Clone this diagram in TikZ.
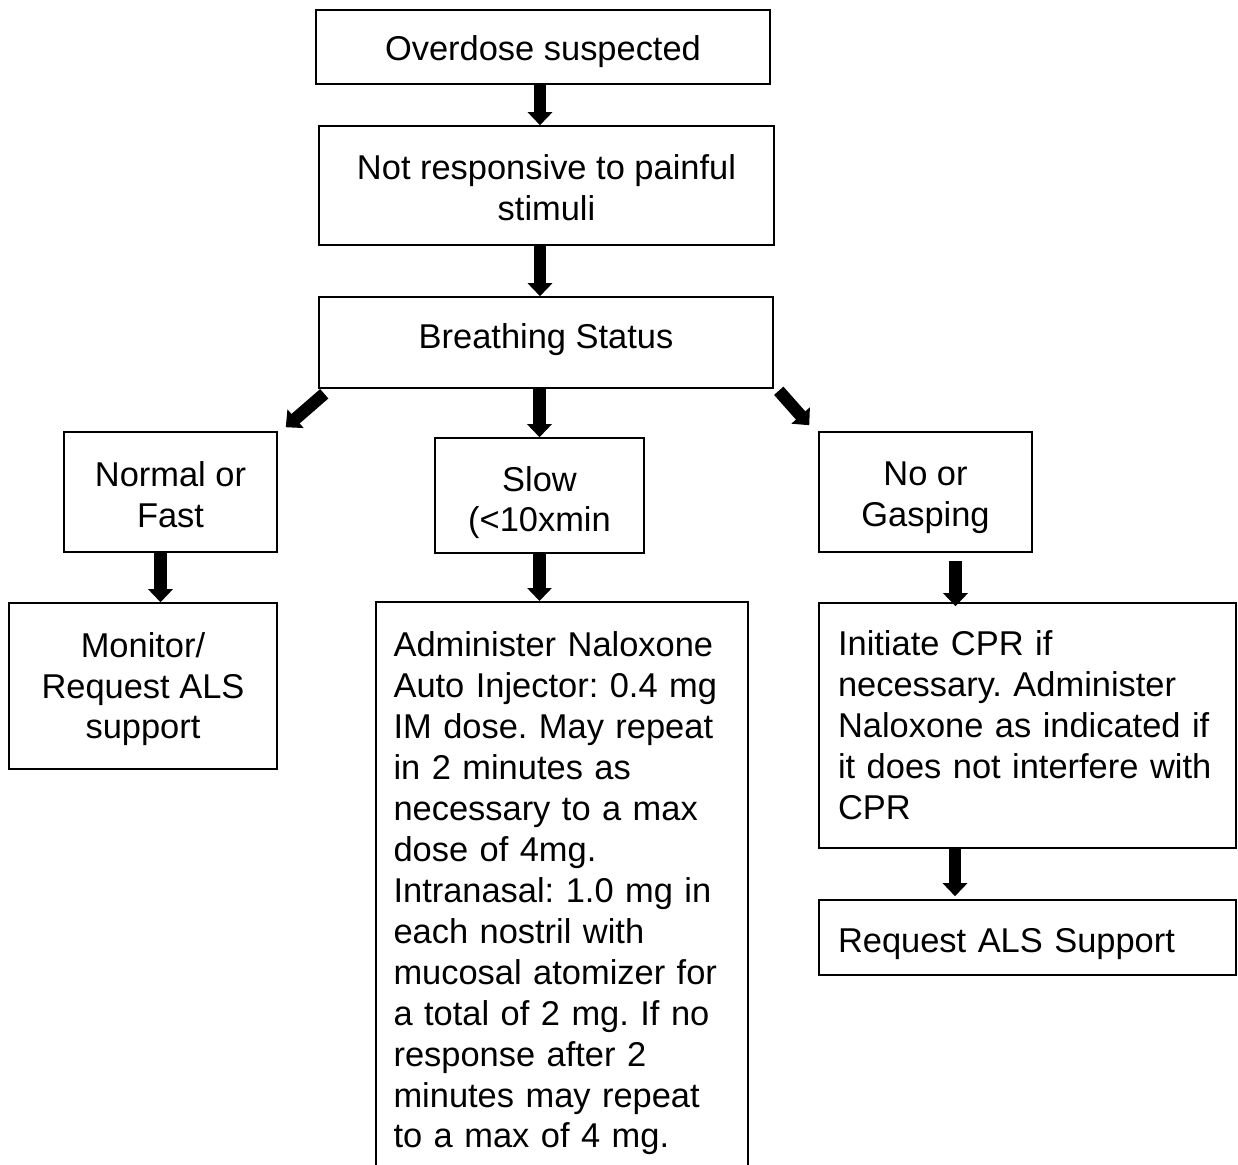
\documentclass[tikz,border=0pt]{standalone}
\usepackage{fontspec}
\setmainfont{Liberation Sans}
\frenchspacing
\usetikzlibrary{arrows.meta}

\tikzset{
  frame/.style={draw, line width=0.9pt, inner sep=0pt, font=\fontsize{19.6}{23.3}\selectfont},
  box/.style={frame, align=center, text depth=0pt},
  lbox/.style={frame, align=left, inner xsep=0.38cm, text width=7.58cm},
  blk/.style={line width=0.25cm, -{Triangle[width=0.48cm,length=0.26cm]}},
}

\begin{document}
\begin{tikzpicture}[x=0.02cm,y=-0.02cm]
    % page frame
    \useasboundingbox (0,0) rectangle (1238,1165);
    \clip (0,0) rectangle (1238,1165);

    % top chain
    \node[box, minimum width=9.08cm, minimum height=1.48cm, text height=0.56cm] (over) at (543,47) {Overdose suspected};
    \node[box, minimum width=9.1cm, minimum height=2.38cm, text height=1.41cm] (resp) at (546.5,185.5) {Not responsive to painful\\stimuli};
    \node[box, minimum width=9.08cm, minimum height=1.82cm, text height=0.23cm] (breath) at (546,342.5) {Breathing Status};

    % breathing branches
    \node[box, minimum width=4.26cm, minimum height=2.4cm, text height=1.41cm] (fast) at (170.5,492) {Normal or\\Fast};
    \node[box, minimum width=4.18cm, minimum height=2.3cm, text height=1.46cm] (slow) at (539.5,495.5) {Slow\\(<10xmin};
    \node[box, minimum width=4.26cm, minimum height=2.4cm, text height=1.39cm] (gasp) at (925.5,492) {No or\\Gasping};

    % actions
    \node[box, minimum width=5.36cm, minimum height=3.32cm, text height=2.12cm] (monitor) at (143,686) {Monitor/\\Request ALS\\support};
    \node[lbox, text width=6.74cm, inner xsep=0.35cm, inner ysep=0.6cm, anchor=north] (nalox) at (562,601)
      {Administer Naloxone\\Auto Injector: 0.4 mg\\IM dose. May repeat\\in 2 minutes as\\necessary to a max\\dose of 4mg.\\Intranasal: 1.0 mg in\\each nostril with\\mucosal atomizer for\\a total of 2 mg. If no\\response after 2\\minutes may repeat\\to a max of 4 mg.};
    \node[lbox, minimum height=4.9cm] (cpr) at (1027.5,725.5)
      {Initiate CPR if\\necessary. Administer\\Naloxone as indicated if\\it does not interfere with\\CPR};
    \node[lbox, minimum height=1.5cm, text height=0.6cm, text depth=0pt] (als) at (1027.5,937.5) {Request ALS Support};

    % arrows
    \draw[blk] ([xshift=-0.06cm]over.south) -- ([xshift=-0.06cm]over.south |- resp.north);
    \draw[blk] ([xshift=-0.13cm]resp.south) -- ([xshift=-0.13cm]resp.south |- breath.north);
    \draw[blk] (slow.north |- breath.south) -- (slow.north);
    \draw[blk] ([xshift=0.12cm,yshift=-0.1cm]breath.south west) -- ([xshift=0.16cm,yshift=0.08cm]fast.north east);
    \draw[blk] ([xshift=0.1cm,yshift=-0.04cm]breath.south east) -- ([xshift=-0.18cm,yshift=0.12cm]gasp.north west);
    \draw[blk] ([xshift=-0.2cm]fast.south) -- ([xshift=-0.2cm]fast.south |- monitor.north);
    \draw[blk] (slow.south) -- (slow.south |- nalox.north);
    \draw[blk] ([xshift=0.6cm,yshift=-0.16cm]gasp.south) -- ([xshift=0.6cm,yshift=-0.08cm]gasp.south |- cpr.north);
    \draw[blk] ([xshift=-1.45cm]cpr.south) -- ([xshift=-1.45cm,yshift=0.06cm]cpr.south |- als.north);
\end{tikzpicture}
\end{document}
